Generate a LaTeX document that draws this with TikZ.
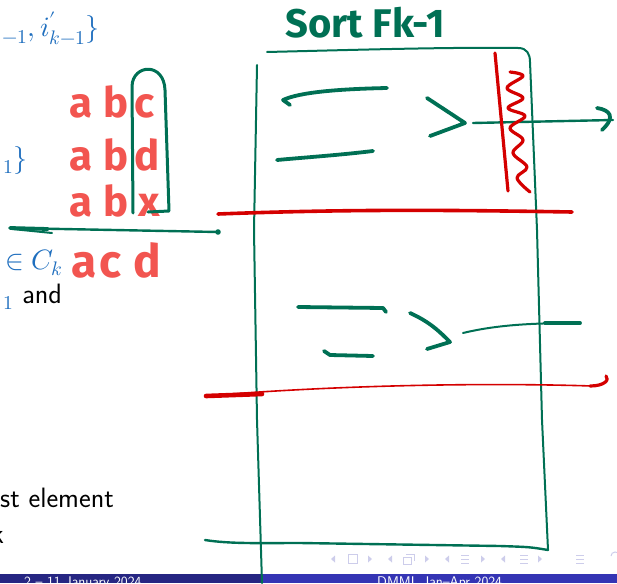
\documentclass[tikz,border=0pt]{standalone}
\usepackage{fontspec}
\usepackage{unicode-math}
\setmathfont{Latin Modern Math}
\newfontfamily\handfont{Fira Sans}
\usetikzlibrary{calc}

\definecolor{inkgreen}{RGB}{0,112,84}
\definecolor{inkred}{RGB}{212,0,0}
\definecolor{chalkred}{RGB}{242,85,80}
\definecolor{slideblue}{RGB}{30,110,190}
\definecolor{bardark}{RGB}{38,38,130}
\definecolor{barlight}{RGB}{52,52,180}
\definecolor{navgrey}{RGB}{205,205,235}

\tikzset{
  boxpen/.style={draw=inkgreen, line width=2pt, line cap=round, line join=round},
  fatpen/.style={draw=inkgreen, line width=3.8pt, line cap=round, line join=round},
  redpen/.style={draw=inkred, line width=3.2pt, line cap=round, line join=round},
  thinred/.style={draw=inkred, line width=1.6pt, line cap=round},
  letters/.style={text=chalkred, font=\handfont\bfseries\fontsize{42}{42}\selectfont,
    anchor=base west, inner sep=0pt},
  slidetext/.style={font=\sffamily\fontsize{28}{28}\selectfont, inner sep=0pt},
  footer/.style={font=\sffamily\fontsize{14}{14}\selectfont, text=white,
    anchor=base west, inner sep=0pt},
  navsym/.style={fill=navgrey},
}

\begin{document}
\begin{tikzpicture}[x=1pt, y=-1pt]

    \useasboundingbox (0,0) rectangle (617,583);
    \clip (0,0) rectangle (617,583);

    % what is left of the slide text
    \node[slidetext, text=slideblue, anchor=base east] (pairs) at (100,37) {$_{-1}, i'_{k-1}\}$};
    \node[slidetext, text=slideblue, anchor=base east] (set) at (28,167) {$_{1}\}$};
    \node[slidetext, text=slideblue, anchor=base west] (member) at (5,269) {$\in C_k$};
    \node[slidetext, anchor=base west] (andword) at (3,303) {\textcolor{slideblue}{$_{1}$} and};
    \node[slidetext, anchor=base west] (element) at (0,507) {st element};
    \node[slidetext, anchor=base west] (cutk) at (-9,543) {k};

    % footer bars
    \fill[bardark] (0,574) rectangle (262,583);
    \fill[barlight] (262,574) rectangle (617,583);
    \node[footer] (date) at (24,586) {2 -- 11 January 2024};
    \node[footer] (course) at (377,586) {DMML Jan--Apr 2024};

    % navigation symbols
    \foreach \x in {333,390,447,503}
        \fill[navsym] (\x+2,555.5) -- (\x-2,559) -- (\x+2,562.5) -- cycle;
    \foreach \x in {370,427,483,540}
        \fill[navsym] (\x-2,555.5) -- (\x+2,559) -- (\x-2,562.5) -- cycle;
    \draw[navgrey, line width=1pt] (348,554) rectangle (357,563);
    \draw[navgrey, line width=1pt] (403,557) rectangle (411,564);
    \draw[navgrey, line width=1pt] (406,554) -- (414,554) -- (414,561);
    \foreach \x in {465,524,580}
        \foreach \y in {555,559,563}
            \draw[navgrey, line width=1pt] (\x-4,\y) -- (\x+4,\y);
    \draw[navgrey, line width=1pt] (611,556) arc (180:300:4);

    % heading in green ink
    \node[text=inkgreen, font=\handfont\bfseries\fontsize{40}{40}\selectfont, anchor=base west,
          inner sep=0pt] (sorttitle) at (285,38) {Sort\hspace{10pt}Fk-1};

    % red candidate rows
    \node[letters] (rowabc) at (69,117) {a\hspace{11pt}b\hspace{6pt}c};
    \node[letters] (rowabd) at (69,170) {a\hspace{11pt}b\hspace{6pt}d};
    \node[letters] (rowabx) at (69,216) {a\hspace{11pt}b\hspace{10pt}x};
    \node[letters, font=\handfont\bfseries\fontsize{46}{46}\selectfont] (rowacd) at (71,277)
        {a\hspace{3pt}c\hspace{12pt}d};

    % green bracket round the last column
    \draw[boxpen, line width=3pt] (133,213) -- (132,86)
        .. controls (133,64) and (164,62) .. (165,90) -- (169,211) -- (148,212);

    % green line under the rows
    \draw[boxpen, line width=2.4pt] (218,232) -- (10,228);
    \draw[fatpen] (10,228) -- (48,229);
    \draw[boxpen] (12,229) -- (52,233);
    \fill[inkgreen] (218,232) circle (2.8);

    % the big box
    \draw[boxpen] (267,52) .. controls (350,50) and (450,47) .. (518,48)
        .. controls (527,48) and (530,54) .. (530,62) -- (537,230) -- (542,420) -- (548,550);
    \draw[boxpen] (257,65) -- (254,230) -- (257,420) -- (262,583);
    \draw[boxpen, line width=2.4pt] (205,540) .. controls (230,544) and (260,543) .. (300,543)
        -- (500,546) .. controls (530,547) .. (548,550);

    % upper group
    \draw[fatpen] (290,105) -- (283,100) .. controls (300,92) and (340,89) .. (387,88);
    \draw[fatpen] (277,160) .. controls (310,157) and (340,155) .. (373,151);
    \draw[fatpen] (427,98) -- (465,123) -- (430,136);
    \draw[boxpen, line width=2.4pt] (473,123) -- (613,120);
    \draw[fatpen] (597,108) .. controls (610,110) and (616,117) .. (602,130);

    % red cut marks in the upper group
    \draw[redpen] (495,53) -- (508,191);
    \draw[redpen] plot[smooth, tension=0.6] coordinates {(510,72) (523,76) (507,88)
        (523,98) (508,108) (525,116) (510,128) (523,140) (513,153) (527,167)
        (517,178) (530,192)};
    \draw[redpen, line width=3.6pt] (218,214) .. controls (350,209) and (450,210) .. (572,212);

    % lower group
    \draw[fatpen] (298,307) -- (383,308) -- (386,312);
    \draw[fatpen] (324,351) -- (330,355) -- (373,356);
    \draw[fatpen] (410,313) .. controls (430,322) and (440,332) .. (450,342) -- (427,349);
    \draw[boxpen] (463,333) .. controls (500,324) and (540,323) .. (580,323);
    \draw[fatpen] (545,323) -- (580,323);

    % red line under the lower group
    \draw[thinred] (205,396) .. controls (350,384) and (500,383) .. (592,386);
    \draw[redpen, line width=4.6pt] (206,396) -- (262,394);
    \draw[redpen] (590,386) .. controls (604,386) and (610,380) .. (606,376);

\end{tikzpicture}
\end{document}
